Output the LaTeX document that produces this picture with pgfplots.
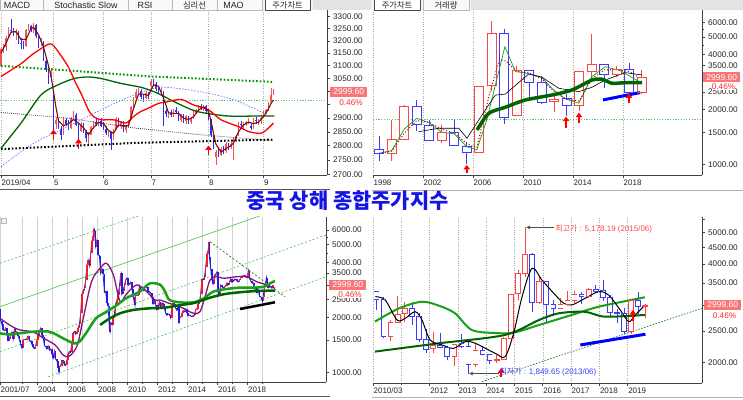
\documentclass[border=0pt]{standalone}
\usepackage{fontspec}
\setmainfont{Liberation Sans}
\newfontfamily\kr{Noto Sans CJK KR}
\usepackage{pgfplots}
\usepackage{pgfplotstable}
\pgfplotsset{compat=1.18}
\usetikzlibrary{arrows.meta}

\definecolor{dred}{RGB}{240,85,85}
\definecolor{dblue}{RGB}{45,45,240}
\definecolor{hred}{RGB}{250,70,70}
\definecolor{hblue}{RGB}{60,60,250}
\definecolor{mred}{RGB}{240,30,30}
\definecolor{mblue}{RGB}{30,30,235}
\definecolor{maroon}{RGB}{130,10,10}
\definecolor{dgreen}{RGB}{0,100,0}
\definecolor{bgreen}{RGB}{25,160,25}
\definecolor{lgreen}{RGB}{90,200,90}
\definecolor{dotgreen}{RGB}{0,150,0}
\definecolor{purp}{RGB}{130,20,130}
\definecolor{boxred}{RGB}{248,118,118}
\definecolor{pctred}{RGB}{250,40,40}
\definecolor{titleblue}{RGB}{20,20,230}

% ---------- daily candles (2019/04 - 2019/09), x = trading day ----------
\pgfplotstableread[row sep=\\]{x O H L C\\
0 3100 3176 3095 3165\\ 1 3165 3185 3150 3178\\ 2 3175 3218 3160 3212\\ 3 3215 3255 3210 3246\\
4 3245 3288 3230 3240\\ 5 3240 3252 3220 3235\\ 6 3230 3248 3205 3238\\ 7 3238 3240 3185 3190\\
8 3190 3210 3168 3185\\ 9 3185 3200 3165 3175\\ 10 3178 3250 3175 3245\\ 11 3248 3268 3238 3260\\
12 3260 3265 3236 3248\\ 13 3250 3275 3232 3268\\ 14 3265 3270 3212 3218\\ 15 3215 3220 3170 3195\\
16 3195 3210 3180 3200\\ 17 3198 3200 3120 3125\\ 18 3120 3130 3075 3085\\ 19 3085 3095 3030 3060\\
20 3055 3090 3045 3078\\ 21 2985 2990 2855 2870\\ 22 2880 2905 2862 2895\\ 23 2890 2900 2860 2868\\
24 2860 2870 2821 2840\\ 25 2845 2905 2840 2900\\ 26 2895 2900 2870 2878\\ 27 2878 2895 2858 2862\\
28 2865 2905 2862 2900\\ 29 2900 2925 2893 2915\\ 30 2912 2920 2870 2875\\ 31 2870 2880 2803 2852\\
32 2852 2885 2848 2880\\ 33 2878 2882 2845 2850\\ 34 2848 2856 2815 2828\\ 35 2830 2848 2808 2842\\
36 2840 2872 2838 2868\\ 37 2868 2890 2860 2885\\ 38 2885 2898 2870 2878\\ 39 2878 2895 2872 2890\\
40 2890 2900 2868 2872\\ 41 2872 2885 2855 2862\\ 42 2862 2870 2840 2845\\ 43 2845 2858 2830 2850\\
44 2848 2850 2786 2825\\ 45 2825 2860 2820 2855\\ 46 2860 2905 2858 2898\\ 47 2898 2902 2868 2872\\
48 2870 2890 2862 2885\\ 49 2885 2888 2850 2858\\ 50 2858 2875 2845 2870\\ 51 2870 2895 2866 2890\\
52 2900 2945 2898 2940\\ 53 2940 2980 2935 2975\\ 54 2975 3010 2970 2998\\ 55 3000 3012 2985 3005\\
56 3002 3008 2970 2980\\ 57 2978 2985 2960 2975\\ 58 2975 3000 2972 2995\\ 59 2992 2998 2972 2980\\
60 3020 3048 3015 3040\\ 61 3042 3048 3020 3035\\ 62 3030 3035 3000 3010\\ 63 3008 3015 2990 2998\\
64 2998 3012 2988 3005\\ 65 3000 3002 2870 2925\\ 66 2925 2935 2905 2915\\ 67 2915 2925 2900 2918\\
68 2918 2930 2905 2910\\ 69 2910 2935 2905 2930\\ 70 2930 2940 2915 2922\\ 71 2922 2928 2890 2895\\
72 2895 2915 2885 2910\\ 73 2910 2915 2882 2888\\ 74 2888 2912 2880 2908\\ 75 2905 2908 2878 2885\\
76 2885 2905 2880 2900\\ 77 2900 2925 2898 2920\\ 78 2920 2935 2915 2930\\ 79 2930 2950 2925 2945\\
80 2945 2952 2930 2938\\ 81 2938 2950 2928 2945\\ 82 2945 2948 2920 2925\\ 83 2920 2922 2895 2900\\
84 2895 2898 2830 2840\\ 85 2835 2840 2790 2800\\ 86 2760 2785 2733 2778\\ 87 2785 2795 2760 2768\\
88 2768 2795 2765 2790\\ 89 2790 2800 2770 2775\\ 90 2780 2812 2775 2808\\ 91 2805 2810 2785 2795\\
92 2795 2815 2788 2808\\ 93 2790 2830 2748 2825\\ 94 2825 2840 2815 2835\\ 95 2840 2885 2835 2880\\
96 2880 2890 2868 2875\\ 97 2875 2885 2862 2880\\ 98 2880 2890 2870 2885\\ 99 2890 2900 2880 2895\\
100 2870 2880 2855 2865\\ 101 2865 2900 2860 2895\\ 102 2895 2905 2880 2888\\ 103 2888 2898 2875 2890\\
104 2892 2910 2880 2900\\ 105 2905 2925 2900 2920\\ 106 2920 2935 2915 2930\\ 107 2932 2960 2928 2955\\
108 2960 3015 2955 2985\\ 109 2988 3010 2985 2999.6\\
}\dtbl

% ---------- yearly candles ----------
\pgfplotstableread[row sep=\\]{x O H L C\\
1998.5 1200 1422 1043 1147\\ 1999.5 1144 1756 1047 1367\\ 2000.5 1368 2125 1361 2073\\
2001.5 2077 2245 1514 1646\\ 2002.5 1643 1748 1339 1358\\ 2003.5 1347 1649 1307 1497\\
2004.5 1492 1783 1259 1266\\ 2005.5 1261 1329 998 1161\\ 2006.5 1163 2698 1161 2675\\
2007.5 2728 6124 2541 5262\\ 2008.5 5265 5522 1664 1821\\ 2009.5 1849 3478 1844 3277\\
2010.5 3289 3306 2319 2808\\ 2011.5 2825 3067 2134 2199\\ 2012.5 2212 2478 1949 2269\\
2013.5 2289 2444 1849 2116\\ 2014.5 2112 3239 1974 3235\\ 2015.5 3258 5178 2850 3539\\
2016.5 3536 3538 2638 3104\\ 2017.5 3105 3450 3017 3307\\ 2018.5 3314 3587 2449 2494\\
2019.5 2497 3288 2440 3000\\
}\ytbl

% ---------- quarterly candles ----------
\pgfplotstableread[row sep=\\]{x O H L C\\
2010.125 3289 3306 2890 3109\\ 2010.375 3109 3181 2382 2398\\ 2010.625 2398 2703 2319 2656\\ 2010.875 2656 3186 2636 2808\\
2011.125 2825 3067 2661 2928\\ 2011.375 2928 3067 2610 2762\\ 2011.625 2762 2827 2306 2359\\ 2011.875 2359 2536 2134 2199\\
2012.125 2212 2478 2132 2262\\ 2012.375 2262 2453 2225 2225\\ 2012.625 2225 2243 2029 2086\\ 2012.875 2086 2276 1949 2269\\
2013.125 2289 2444 2215 2237\\ 2013.375 2237 2334 1849 1979\\ 2013.625 1979 2270 1943 2175\\ 2013.875 2175 2243 2105 2116\\
2014.125 2112 2113 1974 2033\\ 2014.375 2033 2105 1991 2048\\ 2014.625 2048 2391 2040 2364\\ 2014.875 2364 3239 2340 3235\\
2015.125 3258 3835 3095 3748\\ 2015.375 3748 5178 3656 4277\\ 2015.625 4277 4317 2850 3053\\ 2015.875 3053 3684 3029 3539\\
2016.125 3536 3538 2638 3004\\ 2016.375 3004 3097 2780 2930\\ 2016.625 2930 3140 2932 3005\\ 2016.875 3005 3301 3000 3104\\
2017.125 3105 3301 3044 3223\\ 2017.375 3223 3295 3016 3192\\ 2017.625 3192 3391 3152 3349\\ 2017.875 3349 3450 3254 3307\\
2018.125 3314 3587 3091 3169\\ 2018.375 3169 3220 2782 2847\\ 2018.625 2847 2915 2644 2821\\ 2018.875 2821 2939 2449 2494\\
2019.125 2497 3129 2440 3091\\ 2019.375 3091 3288 2822 2979\\ 2019.625 2979 3015 2733 3000\\
}\qtbl

% ---------- monthly closes (bottom-left) ----------
\pgfplotstableread[row sep=\\]{x C\\
2001.542 1920\\ 2001.625 1834\\ 2001.708 1708\\ 2001.792 1690\\ 2001.875 1747\\ 2001.958 1646\\
2002.042 1491\\ 2002.125 1524\\ 2002.208 1603\\ 2002.292 1662\\ 2002.375 1518\\ 2002.458 1732\\ 2002.542 1658\\ 2002.625 1668\\ 2002.708 1581\\ 2002.792 1507\\ 2002.875 1421\\ 2002.958 1358\\
2003.042 1499\\ 2003.125 1512\\ 2003.208 1510\\ 2003.292 1521\\ 2003.375 1576\\ 2003.458 1487\\ 2003.542 1476\\ 2003.625 1421\\ 2003.708 1367\\ 2003.792 1348\\ 2003.875 1397\\ 2003.958 1497\\
2004.042 1590\\ 2004.125 1675\\ 2004.208 1742\\ 2004.292 1595\\ 2004.375 1555\\ 2004.458 1399\\ 2004.542 1386\\ 2004.625 1342\\ 2004.708 1396\\ 2004.792 1320\\ 2004.875 1340\\ 2004.958 1266\\
2005.042 1191\\ 2005.125 1306\\ 2005.208 1181\\ 2005.292 1159\\ 2005.375 1060\\ 2005.43 998\\ 2005.458 1080\\ 2005.542 1083\\ 2005.625 1162\\ 2005.708 1155\\ 2005.792 1092\\ 2005.875 1099\\ 2005.958 1161\\
2006.042 1259\\ 2006.125 1299\\ 2006.208 1298\\ 2006.292 1440\\ 2006.375 1641\\ 2006.458 1672\\ 2006.542 1612\\ 2006.625 1658\\ 2006.708 1752\\ 2006.792 1837\\ 2006.875 2099\\ 2006.958 2675\\
2007.042 2786\\ 2007.125 2881\\ 2007.208 3183\\ 2007.292 3841\\ 2007.375 4109\\ 2007.458 3820\\ 2007.542 4471\\ 2007.625 5218\\ 2007.708 5552\\ 2007.77 6092\\ 2007.792 5954\\ 2007.875 4871\\ 2007.958 5262\\
2008.042 4383\\ 2008.125 4348\\ 2008.208 3473\\ 2008.292 3693\\ 2008.375 3433\\ 2008.458 2736\\ 2008.542 2775\\ 2008.625 2397\\ 2008.708 2293\\ 2008.792 1728\\ 2008.84 1664\\ 2008.875 1871\\ 2008.958 1821\\
2009.042 1991\\ 2009.125 2082\\ 2009.208 2373\\ 2009.292 2477\\ 2009.375 2633\\ 2009.458 2959\\ 2009.542 3412\\ 2009.58 3478\\ 2009.625 2667\\ 2009.708 2779\\ 2009.792 2996\\ 2009.875 3195\\ 2009.958 3277\\
2010.042 2989\\ 2010.125 3051\\ 2010.208 3110\\ 2010.292 2870\\ 2010.375 2592\\ 2010.458 2398\\ 2010.5 2319\\ 2010.542 2638\\ 2010.625 2639\\ 2010.708 2656\\ 2010.792 2979\\ 2010.875 2820\\ 2010.958 2808\\
2011.042 2791\\ 2011.125 2905\\ 2011.208 2928\\ 2011.292 2912\\ 2011.375 2743\\ 2011.458 2762\\ 2011.542 2701\\ 2011.625 2568\\ 2011.708 2359\\ 2011.792 2469\\ 2011.875 2333\\ 2011.958 2199\\
2012.042 2292\\ 2012.125 2428\\ 2012.208 2263\\ 2012.292 2397\\ 2012.375 2373\\ 2012.458 2225\\ 2012.542 2103\\ 2012.625 2048\\ 2012.708 2086\\ 2012.792 2069\\ 2012.875 1980\\ 2012.958 2269\\
2013.042 2385\\ 2013.125 2366\\ 2013.208 2237\\ 2013.292 2178\\ 2013.375 2301\\ 2013.44 1849\\ 2013.458 1979\\ 2013.542 1994\\ 2013.625 2098\\ 2013.708 2175\\ 2013.792 2142\\ 2013.875 2220\\ 2013.958 2116\\
2014.042 2033\\ 2014.125 2056\\ 2014.208 2033\\ 2014.292 2026\\ 2014.375 2039\\ 2014.458 2048\\ 2014.542 2202\\ 2014.625 2217\\ 2014.708 2364\\ 2014.792 2420\\ 2014.875 2683\\ 2014.958 3235\\
2015.042 3210\\ 2015.125 3310\\ 2015.208 3748\\ 2015.292 4442\\ 2015.375 4612\\ 2015.43 5166\\ 2015.458 4277\\ 2015.542 3664\\ 2015.625 3206\\ 2015.708 3053\\ 2015.792 3383\\ 2015.875 3445\\ 2015.958 3539\\
2016.042 2738\\ 2016.08 2638\\ 2016.125 2688\\ 2016.208 3004\\ 2016.292 2938\\ 2016.375 2917\\ 2016.458 2930\\ 2016.542 2979\\ 2016.625 3085\\ 2016.708 3005\\ 2016.792 3100\\ 2016.875 3250\\ 2016.958 3104\\
2017.042 3159\\ 2017.125 3242\\ 2017.208 3223\\ 2017.292 3155\\ 2017.375 3117\\ 2017.458 3192\\ 2017.542 3273\\ 2017.625 3361\\ 2017.708 3349\\ 2017.792 3393\\ 2017.875 3317\\ 2017.958 3307\\
2018.042 3481\\ 2018.07 3587\\ 2018.125 3259\\ 2018.208 3169\\ 2018.292 3082\\ 2018.375 3095\\ 2018.458 2847\\ 2018.542 2876\\ 2018.625 2725\\ 2018.708 2821\\ 2018.792 2603\\ 2018.875 2588\\ 2018.958 2494\\ 2019.0 2440\\
2019.042 2585\\ 2019.125 2941\\ 2019.208 3091\\ 2019.26 3288\\ 2019.292 3078\\ 2019.375 2899\\ 2019.458 2979\\ 2019.542 2933\\ 2019.625 2886\\ 2019.708 3000\\
}\mtbl

% ---------- builders: turn table rows into jump-separated segment lists ----------
\newcommand\mkcandles[1]{%
  \gdef\cRW{}\gdef\cRB{}\gdef\cBW{}\gdef\cBB{}\gdef\cRM{}\gdef\cBM{}\gdef\cAB{}%
  \pgfplotstablegetrowsof{#1}%
  \pgfmathtruncatemacro\cN{\pgfplotsretval-1}%
  \foreach \ci in {0,...,\cN}{%
    \pgfplotstablegetelem{\ci}{x}\of#1\let\cx\pgfplotsretval
    \pgfplotstablegetelem{\ci}{O}\of#1\let\cO\pgfplotsretval
    \pgfplotstablegetelem{\ci}{H}\of#1\let\cH\pgfplotsretval
    \pgfplotstablegetelem{\ci}{L}\of#1\let\cL\pgfplotsretval
    \pgfplotstablegetelem{\ci}{C}\of#1\let\cC\pgfplotsretval
    \xdef\cAB{\cAB (\cx,\cO) (\cx,\cC) (\cx,nan)}%
    \ifdim\cC pt<\cO pt
      \xdef\cBW{\cBW (\cx,\cL) (\cx,\cH) (\cx,nan)}%
      \xdef\cBB{\cBB (\cx,\cO) (\cx,\cC) (\cx,nan)}%
      \xdef\cBM{\cBM (\cx,\cO) (\cx,\cC)}%
    \else
      \xdef\cRW{\cRW (\cx,\cL) (\cx,\cH) (\cx,nan)}%
      \xdef\cRB{\cRB (\cx,\cO) (\cx,\cC) (\cx,nan)}%
      \xdef\cRM{\cRM (\cx,\cO) (\cx,\cC)}%
    \fi}%
}
\newcommand\mkmonthly[2]{%
  \gdef\mR{}\gdef\mB{}\xdef\mP{#2}%
  \pgfplotstablegetrowsof{#1}%
  \pgfmathtruncatemacro\cN{\pgfplotsretval-1}%
  \foreach \ci in {0,...,\cN}{%
    \pgfplotstablegetelem{\ci}{x}\of#1\let\cx\pgfplotsretval
    \pgfplotstablegetelem{\ci}{C}\of#1\let\cC\pgfplotsretval
    \ifdim\cC pt<\mP pt
      \xdef\mB{\mB (\cx,\mP) (\cx,\cC) (\cx,nan)}%
    \else
      \xdef\mR{\mR (\cx,\mP) (\cx,\cC) (\cx,nan)}%
    \fi
    \xdef\mP{\cC}}%
}
\newcommand\plotlist[2]{\edef\myplotcmd{\noexpand\addplot[#1] coordinates {#2};}\myplotcmd}

\mkcandles{\dtbl}\let\dRW\cRW\let\dRB\cRB\let\dBW\cBW\let\dBB\cBB
\mkcandles{\ytbl}\let\yRW\cRW\let\yRB\cRB\let\yBW\cBW\let\yBB\cBB\let\yRM\cRM\let\yBM\cBM\let\yAB\cAB
\mkcandles{\qtbl}\let\qRW\cRW\let\qRB\cRB\let\qBW\cBW\let\qBB\cBB\let\qRM\cRM\let\qBM\cBM\let\qAB\cAB
\mkmonthly{\mtbl}{2218}

\pgfplotsset{
  panel/.style={
    scale only axis, anchor=south west,
    axis x line*=bottom, axis y line*=right,
    axis line style={black!75, line width=0.7bp},
    tick style={black!75, line width=0.5bp},
    tick align=outside, major tick length=3bp, minor tick length=2bp,
    xticklabel style={anchor=north west, inner sep=0pt, xshift=0.5bp, yshift=-2bp, font=\fontsize{8}{9}\selectfont, text=black!85},
    yticklabel style={anchor=west, inner sep=0pt, xshift=3bp, font=\fontsize{8.2}{9}\selectfont, text=black!85},
    /pgf/number format/assume math mode=true,
  },
}
\tikzset{
  lbl/.style={fill=boxred, text=white, font=\fontsize{8.5}{9}\selectfont, inner sep=0pt, minimum width=37bp, minimum height=10bp, anchor=west},
  pct/.style={fill=white, text=pctred, font=\fontsize{8.2}{9}\selectfont, inner sep=0.2bp},
  redarrow/.style={red, line width=1.8bp, -{Triangle[width=6.5bp,length=4.5bp]}},
  tabf/.style={font=\fontsize{9}{10}\selectfont, text=black!85, inner sep=0pt},
  tabk/.style={font=\kr\fontsize{8.3}{9}\selectfont, text=black!85, inner sep=0pt},
}

\begin{document}
\begin{tikzpicture}
\useasboundingbox (0,0) rectangle (743bp,400bp);

% ================= panel 1: daily =================
\begin{axis}[panel, at={(0bp,225bp)}, width=327bp, height=165bp,
  xmin=-0.4, xmax=130.4, ymode=log, ymin=2698, ymax=3328,
  xtick={0,21,41,60,83,105}, xticklabels={2019/04,5,6,7,8,9},
  xmajorgrids, major x grid style={dotted, gray!70},
  ytick={2700,2750,2800,2850,2900,2950,3000,3050,3100,3150,3200,3250,3300},
  yticklabels={2700.00,2750.00,2800.00,2850.00,2900.00,{},{},3050.00,3100.00,3150.00,3200.00,3250.00,3300.00}]
\plotlist{dred, line width=0.6bp, unbounded coords=jump}{\dRW}
\plotlist{dred, line width=1.7bp, unbounded coords=jump}{\dRB}
\plotlist{dblue, line width=0.6bp, unbounded coords=jump}{\dBW}
\plotlist{dblue, line width=1.7bp, unbounded coords=jump}{\dBB}
\addplot[lgreen, line width=0.7bp, dash pattern=on 1.2bp off 1.5bp] coordinates {(-0.4,2967) (130.4,2967)};
\addplot[dotgreen, line width=2bp, dash pattern=on 1.6bp off 2bp] coordinates {(0,3100) (60,3058) (108.7,3037)};
\addplot[black!80, line width=0.8bp, dash pattern=on 0.8bp off 1.2bp] coordinates {(0,2921) (26.7,2900) (53.3,2864) (80,2839) (108.7,2819)};
\addplot[black, line width=2bp, dash pattern=on 1.6bp off 2bp] coordinates {(0,2788) (53.3,2810) (108.7,2822)};
\addplot[blue!55, line width=0.7bp, dash pattern=on 1.5bp off 1.5bp, smooth] coordinates {(0,2727) (13.3,2810) (26.7,2869) (40,2931) (53.3,2987) (64,3016) (80,2999) (93.3,2968) (105.3,2918)};
\addplot[dgreen, line width=1.3bp, smooth, tension=0.5] coordinates {(0,2791) (8,2882) (16,2987) (22.7,3025) (29.3,3050) (34.7,3056) (40,3050) (48,3031) (56,3016) (61.3,2999) (64,2987) (72,2949) (78.7,2924) (90.7,2908) (102.7,2908) (109.3,2908)};
\addplot[red, line width=1.3bp, smooth, tension=0.5] coordinates {(0,3058) (8,3108) (13,3148) (19,3186) (21,3180) (24,3140) (27,3094) (30,3030) (32,2993) (35,2930) (37,2906) (40,2894) (45,2894) (50,2882) (53,2906) (56,2925) (59,2937) (63,2955) (66,2960) (72,2970) (77,2949) (83,2931) (88,2894) (95,2869) (99,2851) (104,2845) (107,2864) (109,2882)};
\addplot[maroon, line width=1.1bp] coordinates {(0,3150) (2,3190) (4,3235) (6,3238) (8,3205) (10,3205) (12,3250) (13,3255) (15,3225) (17,3175) (19,3100) (20,3060) (21,3000) (22,2940) (23,2890) (25,2872) (27,2880) (29,2895) (31,2882) (33,2865) (35,2840) (37,2865) (39,2885) (41,2880) (43,2855) (45,2845) (47,2875) (49,2872) (51,2872) (53,2935) (55,2990) (57,2990) (59,2985) (61,3025) (63,3020) (65,2975) (67,2920) (69,2918) (71,2918) (73,2900) (75,2895) (77,2905) (79,2930) (81,2942) (83,2925) (84,2890) (85,2845) (86,2805) (88,2778) (90,2790) (92,2800) (93,2810) (95,2850) (97,2875) (99,2885) (101,2880) (103,2885) (105,2905) (107,2935) (108,2955) (109,2968)};
\addplot[redarrow] coordinates {(21,2821) (21,2858)};
\addplot[redarrow] coordinates {(31,2788) (31,2825)};
\addplot[redarrow] coordinates {(83,2766) (83,2801)};
\coordinate (b1) at (axis cs:130.4,2999.6);
\end{axis}
\node[lbl] at ([xshift=3bp]b1) {2999.60};
\node[pct] at ([xshift=24bp,yshift=-11bp]b1) {0.46\%};

% ================= panel 2: yearly =================
\begin{axis}[panel, at={(373bp,225bp)}, width=329bp, height=165bp,
  xmin=1998, xmax=2024.32, ymode=log, ymin=873, ymax=7050,
  xtick={1998,2002,2006,2010,2014,2018}, xticklabels={1998,2002,2006,2010,2014,2018},
  xmajorgrids, major x grid style={dotted, gray!70},
  ytick={1000,1500,2000,2500,3000,3500,4000,5000,6000},
  yticklabels={1000.00,1500.00,2000.00,2500.00,{},3500.00,4000.00,5000.00,6000.00},
  minor ytick={4500,5500}]
\addplot[lgreen, line width=0.7bp, dash pattern=on 1.2bp off 1.5bp] coordinates {(1998,1775) (2024.32,1775)};
\plotlist{hred, line width=0.7bp, unbounded coords=jump}{\yRW}
\plotlist{hblue, line width=0.7bp, unbounded coords=jump}{\yBW}
\plotlist{hred, line width=10bp, unbounded coords=jump}{\yRB}
\plotlist{hblue, line width=10bp, unbounded coords=jump}{\yBB}
\plotlist{white, line width=8.4bp, unbounded coords=jump}{\yAB}
\plotlist{hred, only marks, mark=-, mark size=5bp, mark options={line width=0.8bp}}{\yRM}
\plotlist{hblue, only marks, mark=-, mark size=5bp, mark options={line width=0.8bp}}{\yBM}
\addplot[bgreen, line width=0.7bp] coordinates {(1998.5,1149) (1999.5,1190) (2000.5,1560) (2001.5,1790) (2002.5,1690) (2003.5,1500) (2004.5,1470) (2005.5,1250) (2006.3,1198) (2007.1,1752) (2008.55,4430) (2009.4,3230) (2010.06,3190) (2011.5,3008) (2012.3,2617) (2013.3,2306) (2014.46,2165) (2015.5,3030) (2016.58,3440) (2017.78,3270) (2019.3,2845)};
\addplot[maroon!80!red, line width=1bp, dotted] coordinates {(1998.5,1149) (1999.5,1180) (2000.5,1480) (2001.5,1740) (2002.5,1700) (2003.5,1560) (2004.5,1480) (2005.5,1300) (2006.3,1230) (2007.3,2400) (2008.1,3740) (2008.6,3700) (2009.5,3250) (2010.5,3180) (2011.5,2950) (2012.5,2500) (2013.5,2270) (2014.5,2230) (2015.5,2950) (2016.5,3300) (2017.5,3320) (2018.5,3230) (2019.4,2960)};
\addplot[black, line width=0.6bp] coordinates {(2001.66,1511) (2003.26,1577) (2004.86,1577) (2005.52,1390) (2006.72,1866) (2007.78,2400) (2008.58,2430) (2010.46,3136) (2011.52,3008) (2012.86,2617) (2014.46,2507) (2015.52,2650) (2016.58,2906) (2018.18,3190) (2019.52,3096)};
\addplot[dgreen, line width=3.5bp, smooth, tension=0.4] coordinates {(2006.32,1544) (2007.26,1907) (2008.58,2057) (2010.18,2256) (2012.32,2403) (2013.92,2560) (2015.52,2905) (2016.32,2934) (2017.12,2787) (2018.18,2809) (2019.52,2809)};
\addplot[blue, line width=3bp] coordinates {(2016.4,2258) (2019.36,2477)};
\addplot[redarrow] coordinates {(2005.5,892) (2005.5,991)};
\addplot[redarrow] coordinates {(2013.44,1578) (2013.44,1827)};
\addplot[redarrow] coordinates {(2014.48,1680) (2014.48,1922)};
\addplot[redarrow] coordinates {(2018.48,2166) (2018.48,2456)};
\coordinate (b2) at (axis cs:2024.32,2999.6);
\end{axis}
\node[lbl] at ([xshift=1bp]b2) {2999.60};
\node[pct] at ([xshift=21.5bp,yshift=-9.5bp]b2) {0.46\%};

% ================= panel 3: long-term =================
\begin{axis}[panel, at={(0bp,18bp)}, width=326bp, height=165bp,
  xmin=2001.5, xmax=2023.23, ymode=log, ymin=885, ymax=7070,
  xtick={2001.5,2004,2006,2008,2010,2012,2014,2016,2018},
  xticklabels={2001/07,2004,2006,2008,2010,2012,2014,2016,2018},
  minor xtick={2003,2005,2007,2009,2011,2013,2015,2017,2019},
  xmajorgrids, xminorgrids, major x grid style={gray!35, line width=0.6bp}, minor x grid style={gray!35, line width=0.6bp},
  ytick={1000,1500,2000,2500,3000,3500,4000,5000,6000},
  yticklabels={1000.00,1500.00,2000.00,2500.00,{},3500.00,4000.00,5000.00,6000.00},
  minor ytick={4500,5500}]
\addplot[lgreen, line width=0.7bp, dash pattern=on 2bp off 2bp] coordinates {(2001.5,3947) (2011,7294)};
\addplot[lgreen, line width=0.7bp] coordinates {(2001.5,2284) (2019,7252)};
\addplot[lgreen, line width=0.7bp, dash pattern=on 2bp off 2bp] coordinates {(2001.5,1296) (2023.23,5638)};
\addplot[lgreen, line width=0.7bp, dash pattern=on 2bp off 2bp] coordinates {(2004.72,946) (2023.23,3330)};
\addplot[gray!50!green!60!black, line width=0.7bp, dash pattern=on 2bp off 2bp] coordinates {(2015.5,5181) (2020.5,2591)};
\addplot[mblue, line width=0.8bp] table[x=x, y=C] {\mtbl};
\plotlist{mred, line width=1.6bp, unbounded coords=jump}{\mR}
\plotlist{mblue, line width=1.6bp, unbounded coords=jump}{\mB}
\addplot[purp, line width=1.3bp, smooth, tension=0.5] coordinates {(2001.5,1974) (2002.2,1800) (2002.83,1704) (2003.7,1662) (2004.37,1541) (2005.17,1411) (2005.7,1244) (2006.05,1217) (2006.4,1290) (2006.7,1447) (2007.05,1974) (2007.6,3130) (2008.17,3706) (2008.6,3947) (2009.06,3405) (2009.5,2433) (2009.83,2615) (2010.17,2820) (2010.63,3004) (2011.17,2820) (2011.83,2485) (2012.17,2485) (2012.8,2380) (2013.5,2284) (2014.39,2102) (2014.83,2146) (2015.17,2591) (2015.5,3197) (2015.94,3333) (2016.39,3267) (2017.28,3333) (2017.94,3333) (2018.61,3130) (2019.28,3004) (2019.83,2880)};
\addplot[bgreen, line width=2.5bp, smooth, tension=0.5] coordinates {(2001.5,1634) (2002.2,1613) (2003.7,1667) (2004.8,1667) (2005.7,1535) (2006.4,1441) (2006.8,1470) (2007.3,1667) (2007.9,1974) (2008.6,2144) (2009.3,2334) (2009.9,2540) (2010.8,2759) (2011.5,3066) (2012.2,3004) (2012.5,2759) (2012.8,2486) (2013.5,2414) (2014.4,2414) (2015.1,2540) (2015.7,2759) (2016.6,2855) (2017.5,2905) (2018.4,2905) (2019.1,2938) (2019.5,3066) (2019.83,3160)};
\addplot[dgreen, line width=2.5bp, smooth, tension=0.5] coordinates {(2008.17,1815) (2008.83,1974) (2009.5,2102) (2010.39,2193) (2011.5,2239) (2012.5,2258) (2013.5,2330) (2014.5,2400) (2015.5,2560) (2016.5,2680) (2017.5,2740) (2018.5,2780) (2019.83,2800)};
\addplot[black, line width=2.5bp] coordinates {(2017.5,2219) (2019.83,2415)};
\coordinate (b3) at (axis cs:2023.23,2999.6);
\end{axis}
\node[lbl] at ([xshift=3bp]b3) {2999.60};
\node[pct] at ([xshift=24bp,yshift=-9.5bp]b3) {0.46\%};

% ================= panel 4: quarterly =================
\begin{axis}[panel, at={(373bp,17bp)}, width=329bp, height=166bp,
  xmin=2010, xmax=2021.63, ymode=log, ymin=1731, ymax=5572,
  xtick={2010,2012,2013,2014,2015,2016,2017,2018,2019},
  xticklabels={2010/03,2012,2013,2014,2015,2016,2017,2018,2019},
  minor xtick={2011},
  xmajorgrids, xminorgrids, major x grid style={dotted, gray!70}, minor x grid style={dotted, gray!70},
  ytick={2000,2500,3000,3500,4000,4500,5000,5500},
  yticklabels={2000.00,2500.00,{},3500.00,4000.00,4500.00,5000.00,{}}]
\addplot[bgreen!80!black, line width=0.7bp, dash pattern=on 1.5bp off 1.5bp] coordinates {(2013.85,1747) (2021.63,2930)};
\plotlist{hred, line width=0.7bp, unbounded coords=jump}{\qRW}
\plotlist{hblue, line width=0.7bp, unbounded coords=jump}{\qBW}
\plotlist{hred, line width=5.6bp, unbounded coords=jump}{\qRB}
\plotlist{hblue, line width=5.6bp, unbounded coords=jump}{\qBB}
\plotlist{white, line width=4.2bp, unbounded coords=jump}{\qAB}
\plotlist{hred, only marks, mark=-, mark size=2.8bp, mark options={line width=0.7bp}}{\qRM}
\plotlist{hblue, only marks, mark=-, mark size=2.8bp, mark options={line width=0.7bp}}{\qBM}
\addplot[bgreen, line width=2bp, smooth, tension=0.5] coordinates {(2010.07,2666) (2010.92,2929) (2011.73,3068) (2012.33,2983) (2012.9,2828) (2013.5,2512) (2014.45,2458) (2015.0,2470) (2015.87,2604) (2017.03,2795) (2017.99,2963) (2019.61,3165)};
\addplot[dgreen, line width=2bp, smooth, tension=0.5] coordinates {(2010.07,2159) (2012.33,2289) (2014.66,2427) (2015.87,2698) (2016.57,2828) (2017.49,2858) (2018.2,2761) (2019.61,2795)};
\addplot[black, line width=1bp, smooth, tension=0.5] coordinates {(2010.08,3179) (2010.43,3106) (2010.85,2697) (2011.14,2730) (2011.49,2860) (2011.73,2697) (2012.02,2343) (2012.44,2262) (2012.85,2209) (2013.26,2316) (2013.61,2290) (2014.32,2133) (2014.67,2083) (2014.97,2456) (2015.27,3179) (2015.62,3882) (2015.97,3576) (2016.39,3255) (2016.74,3035) (2017.03,2999) (2017.5,3143) (2017.98,3293) (2018.33,3213) (2018.74,2894) (2019.04,2666) (2019.27,2794) (2019.62,2999)};
\addplot[blue, line width=3bp] coordinates {(2017.33,2262) (2019.63,2440)};
\addplot[gray!60!black, line width=0.8bp, -{Stealth[length=4bp,width=4bp]}] coordinates {(2016.39,5178.19) (2015.42,5178.19)};
\addplot[gray!60!black, line width=0.8bp, -{Stealth[length=4bp,width=4bp]}] coordinates {(2014.45,1849.65) (2013.4,1849.65)};
\addplot[redarrow] coordinates {(2014.53,1810) (2014.53,1920)};
\addplot[redarrow] coordinates {(2019.19,2684) (2019.19,2894)};
\coordinate (hi) at (axis cs:2016.42,5178.19);
\coordinate (lo) at (axis cs:2014.45,1849.65);
\coordinate (b4) at (axis cs:2021.63,2999.6);
\end{axis}
\node[lbl] at ([xshift=2bp]b4) {2999.60};
\node[pct] at ([xshift=22.5bp,yshift=-10.5bp]b4) {0.46\%};
\node[anchor=west, inner sep=0.5bp, text=hred, font=\fontsize{8}{9}\selectfont, yshift=-2bp] at (hi) {{\kr 최고가} : 5,178.19 (2015/06)};
\node[anchor=west, inner sep=0.5bp, text=hblue, font=\fontsize{8}{9}\selectfont, yshift=1.5bp] at (lo) {{\kr 최저가} : 1,849.65 (2013/06)};

% ================= chrome: tabs, separators, title =================
\fill[gray!10] (0,390bp) rectangle (743bp,400bp);
\foreach \a/\b in {0/43,43/128,128/172,172/217,217/262}
  \draw[gray!55, fill=gray!5] (\a bp,390bp) rectangle (\b bp,401bp);
\draw[black!70, fill=white] (265bp,390bp) rectangle (310bp,401bp);
\fill[gray!22] (313bp,390bp) rectangle (371bp,400bp);
\node[tabf] at (17bp,395bp) {MACD};
\node[tabf] at (86bp,395bp) {Stochastic Slow};
\node[tabf] at (145bp,395bp) {RSI};
\node[tabk] at (194.5bp,395bp) {심리선};
\node[tabf] at (233.5bp,395bp) {MAO};
\node[tabk] at (287.5bp,395bp) {주가차트};
\draw[black!70, fill=white] (374bp,390bp) rectangle (420bp,401bp);
\draw[gray!55, fill=gray!5] (423bp,390bp) rectangle (469bp,401bp);
\fill[gray!22] (471bp,390bp) rectangle (743bp,400bp);
\node[tabk] at (397bp,395bp) {주가차트};
\node[tabk] at (446bp,395bp) {거래량};

\draw[gray!55, fill=gray!10] (1bp,177bp) rectangle (6bp,182bp);

\draw[black!65, line width=1bp] (0,210bp) -- (330bp,210bp);
\draw[gray!60, line width=0.8bp] (372bp,209.5bp) -- (743bp,209.5bp);
\draw[black!65, line width=1bp] (0,3bp) -- (330bp,3bp);
\draw[gray!60, line width=0.8bp] (372bp,3bp) -- (743bp,3bp);

\node[font=\kr\bfseries\fontsize{21}{24}\selectfont, text=titleblue, inner sep=0pt] at (347.5bp,199.3bp) {중국 상해 종합주가지수};
\end{tikzpicture}
\end{document}
